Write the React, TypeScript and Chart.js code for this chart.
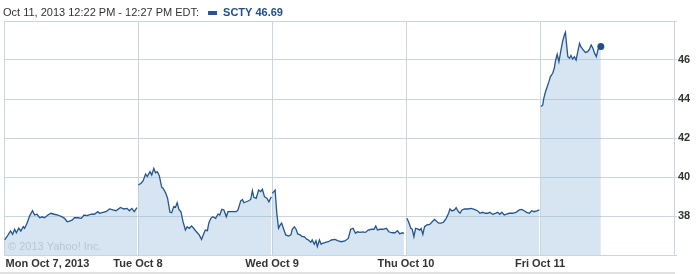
import React, { useEffect, useRef } from "react";
import { Chart, registerables } from "chart.js";

Chart.register(...registerables);

// minutes since 9:30 open for each trading day, and SCTY prices
const MINUTES_PER_DAY = 390;
const dayLabels = ["Mon Oct 7, 2013", "Tue Oct 8", "Wed Oct 9", "Thu Oct 10", "Fri Oct 11"];
const yTicks = [36, 38, 40, 42, 44, 46, 48];

const monTimes = [2, 12, 19, 25, 31, 36, 43, 49, 56, 60, 67, 75, 83, 89, 96, 104, 111, 118, 128, 136, 146, 157, 169, 176, 184, 191, 198, 205, 215, 225, 233, 242, 254, 263, 273, 278, 288, 297, 307, 317, 326, 339, 349, 358, 365, 372, 379, 387];
const monValues = [36.77, 37.03, 37.23, 37.06, 37.32, 37.14, 37.37, 37.23, 37.45, 37.37, 37.63, 38.02, 38.27, 38.05, 38.09, 37.91, 37.96, 37.91, 38.05, 38.14, 38.09, 38.05, 37.96, 37.88, 37.71, 37.74, 37.79, 37.91, 37.91, 37.88, 38.05, 38.02, 38.09, 38.09, 38.22, 38.14, 38.19, 38.22, 38.36, 38.31, 38.27, 38.44, 38.36, 38.39, 38.27, 38.39, 38.22, 38.43];

const tueTimes = [1, 9, 15, 22, 27, 35, 40, 46, 51, 56, 62, 69, 73, 81, 86, 93, 98, 104, 109, 114, 119, 125, 131, 138, 143, 149, 156, 162, 170, 178, 185, 191, 196, 202, 206, 212, 218, 226, 233, 238, 244, 250, 257, 262, 272, 286, 291, 299, 304, 308, 315, 322, 328, 333, 337, 344, 351, 357, 362, 368, 375, 381, 388];
const tueValues = [39.59, 39.68, 39.81, 40.15, 40.02, 40.27, 40.10, 40.44, 40.22, 40.27, 40.07, 39.47, 39.42, 39.16, 38.91, 38.19, 38.17, 38.48, 38.44, 38.68, 38.34, 38.22, 37.71, 37.28, 37.45, 37.37, 37.49, 37.37, 37.19, 37.03, 36.80, 37.08, 37.28, 37.25, 37.63, 37.88, 37.96, 37.88, 38.10, 38.05, 38.34, 38.31, 37.96, 38.22, 38.22, 38.22, 38.31, 38.78, 38.85, 38.68, 38.73, 38.78, 38.85, 39.30, 38.96, 38.91, 39.33, 39.25, 39.37, 38.99, 38.91, 38.73, 38.99];

const wedTimes = [1, 9, 14, 19, 24, 28, 33, 40, 48, 55, 59, 65, 70, 75, 82, 88, 94, 101, 106, 113, 117, 123, 128, 132, 138, 143, 147, 156, 164, 173, 183, 193, 202, 212, 222, 229, 236, 243, 249, 256, 263, 272, 280, 290, 297, 302, 307, 314, 323, 333, 340, 350, 358, 365, 372, 379, 384];
const wedValues = [39.16, 39.33, 38.14, 37.37, 37.54, 37.63, 37.37, 37.03, 36.97, 37.03, 37.32, 37.45, 37.32, 37.08, 37.03, 36.94, 36.94, 36.81, 36.77, 36.65, 36.77, 36.55, 36.73, 36.43, 36.77, 36.55, 36.60, 36.65, 36.68, 36.77, 36.80, 36.72, 36.68, 36.72, 36.85, 37.32, 37.37, 37.11, 37.19, 37.16, 37.19, 37.16, 37.28, 37.32, 37.32, 37.49, 37.28, 37.32, 37.32, 37.37, 37.19, 37.14, 37.14, 37.25, 37.08, 37.14, 37.11];

const thuTimes = [3, 9, 14, 18, 23, 28, 35, 40, 44, 49, 54, 61, 69, 75, 83, 88, 95, 102, 109, 117, 124, 128, 134, 141, 146, 151, 157, 163, 170, 180, 189, 199, 209, 215, 223, 231, 238, 244, 252, 260, 267, 273, 279, 286, 293, 300, 310, 320, 330, 337, 344, 351, 359, 366, 373, 381, 388];
const thuValues = [37.88, 37.63, 37.37, 37.33, 36.94, 37.37, 37.33, 37.28, 37.37, 37.06, 37.45, 37.54, 37.57, 37.68, 37.83, 37.74, 37.63, 37.63, 37.68, 37.88, 38.14, 38.36, 38.26, 38.31, 38.43, 38.26, 38.14, 38.31, 38.36, 38.36, 38.39, 38.34, 38.26, 38.14, 38.19, 38.14, 38.14, 38.19, 38.09, 38.14, 38.19, 38.09, 38.19, 38.05, 38.10, 38.14, 38.14, 38.19, 38.31, 38.34, 38.27, 38.19, 38.14, 38.27, 38.22, 38.26, 38.31];

const friTimes = [3, 8, 11, 16, 21, 26, 30, 37, 42, 45, 50, 55, 61, 66, 71, 74, 77, 81, 86, 90, 95, 100, 105, 110, 115, 119, 124, 132, 139, 144, 149, 154, 159, 164, 169, 177];
const friValues = [43.61, 43.69, 44.03, 44.37, 44.63, 44.89, 45.14, 45.32, 45.61, 45.95, 46.29, 45.91, 46.51, 46.97, 47.28, 47.42, 46.85, 46.17, 46.09, 46.23, 46.05, 46.17, 46.00, 46.43, 46.85, 46.68, 46.56, 46.39, 46.43, 46.56, 46.77, 46.60, 46.34, 46.17, 46.56, 46.69];

const titleText = "Oct 11, 2013 12:22 PM - 12:27 PM EDT:";
const legendText = "SCTY 46.69";
const watermarkText = "\u00a9 2013 Yahoo! Inc.";

const LINE = "#23568d";
const FILL = "rgba(140,184,216,0.36)";
const GRID = "#c9d6e0";
const TEXT = "#333333";

const days = [
  { t: monTimes, v: monValues },
  { t: tueTimes, v: tueValues },
  { t: wedTimes, v: wedValues },
  { t: thuTimes, v: thuValues },
  { t: friTimes, v: friValues },
];

const decorPlugin = {
  id: "decor",
  afterDraw(chart: any) {
    const ctx = chart.ctx;
    const xs = chart.scales.x;
    const area = chart.chartArea;
    ctx.save();
    // header
    ctx.textBaseline = "middle";
    ctx.textAlign = "left";
    ctx.font = '11px "Liberation Sans", Arial, sans-serif';
    ctx.fillStyle = TEXT;
    ctx.fillText(titleText, 3, 13);
    const tw = ctx.measureText(titleText).width;
    const sx = 3 + tw + 9;
    ctx.fillStyle = LINE;
    ctx.fillRect(sx, 11, 9, 4);
    ctx.font = 'bold 11px "Liberation Sans", Arial, sans-serif';
    ctx.fillStyle = "#1f4f88";
    ctx.fillText(legendText, sx + 15, 13);
    // x labels
    ctx.font = 'bold 11px "Liberation Sans", Arial, sans-serif';
    ctx.fillStyle = TEXT;
    dayLabels.forEach((lab, i) => {
      const px = xs.getPixelForValue(i * MINUTES_PER_DAY);
      if (i === 0) {
        ctx.textAlign = "left";
        ctx.fillText(lab, px + 1.5, 264);
      } else {
        ctx.textAlign = "center";
        ctx.fillText(lab, px, 264);
      }
    });
    // watermark
    ctx.textAlign = "left";
    ctx.font = '11px "Liberation Sans", Arial, sans-serif';
    ctx.fillStyle = "#b9c6d0";
    ctx.fillText(watermarkText, area.left + 4, 247);
    // bottom strip
    ctx.fillStyle = "#e1e1e1";
    ctx.fillRect(0, 272, area.right + 1, 2);
    ctx.restore();
  },
};

export default function App() {
  const ref = useRef<HTMLCanvasElement | null>(null);
  useEffect(() => {
    if (!ref.current) return;
    const datasets = days.map((d, i) => {
      const last = i === days.length - 1;
      return {
        data: d.t.map((t, j) => ({ x: i * MINUTES_PER_DAY + t, y: d.v[j] })),
        borderColor: LINE,
        borderWidth: 1.3,
        backgroundColor: FILL,
        fill: "start",
        tension: 0,
        pointRadius: d.t.map((_, j) => (last && j === d.t.length - 1 ? 3.5 : 0)),
        pointBackgroundColor: "#1f4f88",
        pointBorderColor: "#1f4f88",
        pointBorderWidth: 0,
      };
    });
    const chart = new Chart(ref.current, {
      type: "line",
      data: { datasets } as any,
      options: {
        responsive: false,
        animation: false,
        layout: { padding: { left: 2, top: 21, right: 0, bottom: 0 } },
        plugins: { legend: { display: false }, tooltip: { enabled: false }, title: { display: false } },
        scales: {
          x: {
            type: "linear",
            min: 0,
            max: MINUTES_PER_DAY * dayLabels.length,
            ticks: { display: false, stepSize: MINUTES_PER_DAY },
            afterBuildTicks: (s: any) => {
              s.ticks = dayLabels.map((_, i) => ({ value: i * MINUTES_PER_DAY })).concat([{ value: MINUTES_PER_DAY * dayLabels.length }]);
            },
            grid: { color: GRID, lineWidth: 1, drawTicks: false },
            border: { color: GRID },
            afterFit: (s: any) => {
              s.height = 19;
            },
          },
          y: {
            position: "right",
            min: yTicks[0],
            max: yTicks[yTicks.length - 1],
            afterBuildTicks: (s: any) => {
              s.ticks = yTicks.map((v) => ({ value: v }));
            },
            ticks: {
              padding: 1,
              color: TEXT,
              font: { family: '"Liberation Sans", Arial, sans-serif', size: 11, weight: "bold" },
              callback: (v: any) => (v === yTicks[0] || v === yTicks[yTicks.length - 1] ? "" : String(v)),
            },
            grid: { color: GRID, lineWidth: 1, tickLength: 3 },
            border: { color: GRID },
            afterFit: (s: any) => {
              s.width = 25;
            },
          },
        },
      } as any,
      plugins: [decorPlugin],
    });
    return () => chart.destroy();
  }, []);
  return (
    <div style={{ position: "fixed", left: 0, top: 0, width: 699, height: 274, background: "#fff" }}>
      <canvas ref={ref} width={699} height={274} style={{ display: "block", width: 699, height: 274 }} />
    </div>
  );
}
